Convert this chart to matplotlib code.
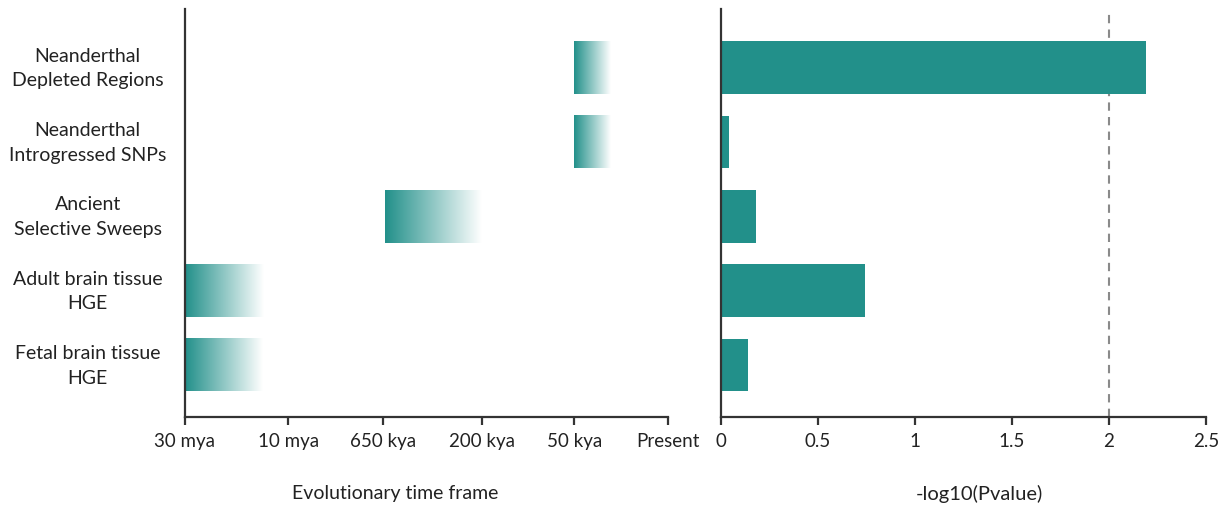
import numpy as np
import matplotlib.pyplot as plt
from matplotlib.colors import LinearSegmentedColormap
from matplotlib.transforms import ScaledTranslation

plt.rcParams['font.family'] = ['Lato', 'DejaVu Sans']

# Gene sets, top to bottom
categories = [
    "Neanderthal\nDepleted Regions",
    "Neanderthal\nIntrogressed SNPs",
    "Ancient\nSelective Sweeps",
    "Adult brain tissue\nHGE",
    "Fetal brain tissue\nHGE",
]

# Evolutionary time axis (ordinal scale)
time_labels = ["30 mya", "10 mya", "650 kya", "200 kya", "50 kya", "Present"]
time_positions = [0, 1.07, 2.05, 3.07, 4.03, 5]

# Time window of each gene set on that scale (start, fading end)
window_start = [4.03, 4.03, 2.07, 0.0, 0.0]
window_end = [4.41, 4.41, 3.07, 0.81, 0.80]

# Enrichment significance
neg_log10_p = [2.19, 0.04, 0.18, 0.74, 0.14]
threshold = 2.0

teal = "#22908a"
axis_color = "#333333"
text_color = "#222222"
bar_h = 0.71

fig = plt.figure(figsize=(12.28, 5.06), dpi=100)
ax_t = fig.add_axes([185 / 1228, 1 - 418 / 506, 483 / 1228, 408 / 506])
ax_p = fig.add_axes([721 / 1228, 1 - 418 / 506, 485 / 1228, 408 / 506])

y = np.arange(len(categories))
fade = LinearSegmentedColormap.from_list("fade", [teal, "#ffffff"])
grad = np.linspace(0, 1, 256).reshape(1, -1)

# Left panel: gradient bars marking the time frame
for yi, x0, x1 in zip(y, window_start, window_end):
    ax_t.imshow(grad, cmap=fade, aspect="auto", interpolation="bilinear",
                extent=[x0, x1, yi + bar_h / 2, yi - bar_h / 2], zorder=2)

ax_t.set_xlim(0, 5)
ax_t.set_ylim(len(categories) - 1 + 0.70, -0.79)
ax_t.set_xticks(time_positions)
ax_t.set_xticklabels(time_labels)
ax_t.set_yticks(y)
ax_t.set_yticklabels(categories, ha="center", fontsize=14, color=text_color,
                     linespacing=1.55)
ax_t.tick_params(axis="y", length=0, pad=70)
lift = ScaledTranslation(0, 4 / 72, fig.dpi_scale_trans)
for lbl in ax_t.get_yticklabels():
    lbl.set_transform(lbl.get_transform() + lift)
ax_t.set_xlabel("Evolutionary time frame", fontsize=14, color=text_color)
ax_t.xaxis.set_label_coords(0.435, -0.165)

# Right panel: -log10 p-values
ax_p.barh(y, neg_log10_p, height=bar_h, color=teal, zorder=2)
ax_p.axvline(threshold, color="#8a8a8a", linestyle=(0, (4, 3)), linewidth=1.5, zorder=1)
ax_p.set_xlim(0, 2.5)
ax_p.set_ylim(len(categories) - 1 + 0.70, -0.79)
ax_p.set_xticks([0, 0.5, 1, 1.5, 2, 2.5])
ax_p.set_xticklabels(["0", "0.5", "1", "1.5", "2", "2.5"])
ax_p.set_yticks([])
ax_p.set_xlabel("-log10(Pvalue)", fontsize=14.5, color=text_color)
ax_p.xaxis.set_label_coords(0.532, -0.165)

for ax in (ax_t, ax_p):
    for s in ("top", "right"):
        ax.spines[s].set_visible(False)
    for s in ("left", "bottom"):
        ax.spines[s].set_color(axis_color)
        ax.spines[s].set_linewidth(1.6)
    ax.tick_params(axis="x", length=6, width=1.6, color=axis_color,
                   labelsize=13.5, labelcolor=text_color, pad=5)
    ax.xaxis.label.set_va("top")

fig.savefig("out.png", dpi=100, facecolor="white")
